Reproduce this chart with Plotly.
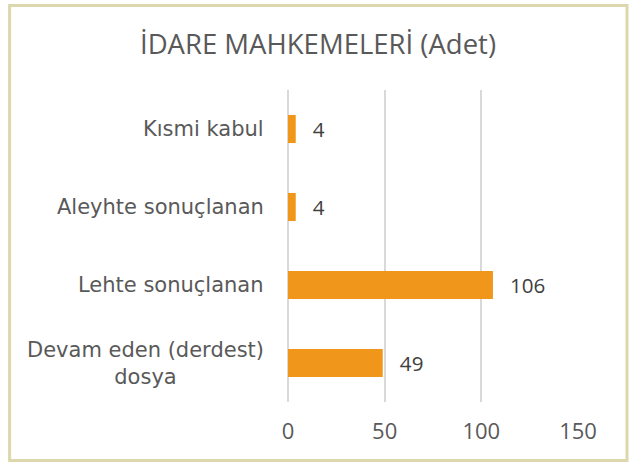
import plotly.graph_objects as go

# data
categories = ["Devam eden (derdest)<br>dosya", "Lehte sonuçlanan", "Aleyhte sonuçlanan", "Kısmi kabul"]
values = [49, 106, 4, 4]
x_ticks = [0, 50, 100, 150]

text_color = "#595959"
label_font = "DejaVu Sans"
num_font = "Open Sans"

fig = go.Figure(go.Bar(
    x=values,
    y=categories,
    orientation="h",
    marker=dict(color="#f0961a", line=dict(width=0)),
    width=0.36,
    text=values,
    texttemplate="  \u2009%{x}",
    textposition="outside",
    textfont=dict(size=22, color="#404040", family=num_font),
    cliponaxis=False,
    hoverinfo="skip",
))

# category labels as centered annotations (multi-line text centred like the original)
for cat in categories:
    fig.add_annotation(
        x=-0.075, y=cat, xref="paper", yref="y",
        text=cat, showarrow=False,
        xanchor="right", align="center",
        font=dict(size=21, color=text_color, family=label_font),
    )

# khaki frame around the whole chart
fig.add_shape(
    type="rect", xref="paper", yref="paper",
    x0=-0.960, x1=1.169, y0=-0.1875, y1=1.271,
    line=dict(color="#dcd7ac", width=3),
)

fig.update_layout(
    width=636, height=464,
    margin=dict(l=288, r=58, t=90, b=62),
    paper_bgcolor="white", plot_bgcolor="white",
    font=dict(family=num_font, color=text_color, size=22),
    title=dict(
        text="İDARE MAHKEMELERİ (Adet)",
        x=0.5, xref="container", xanchor="center",
        y=0.905, yref="container", yanchor="middle",
        font=dict(size=27.5, color=text_color, family=num_font),
    ),
    showlegend=False,
)
fig.update_xaxes(
    range=[0, 150], tickvals=x_ticks,
    showgrid=True, gridcolor="#d9d9d9", gridwidth=1.5,
    zeroline=True, zerolinecolor="#d9d9d9", zerolinewidth=1.5,
    showline=False, ticks="",
    tickfont=dict(size=22, color=text_color, family=num_font),
    ticklabelstandoff=14,
)
fig.update_yaxes(showticklabels=False, showgrid=False, showline=False, ticks="")

fig.write_html("out.html", config={"displayModeBar": False},
               post_script="document.body.style.margin='0px';")
